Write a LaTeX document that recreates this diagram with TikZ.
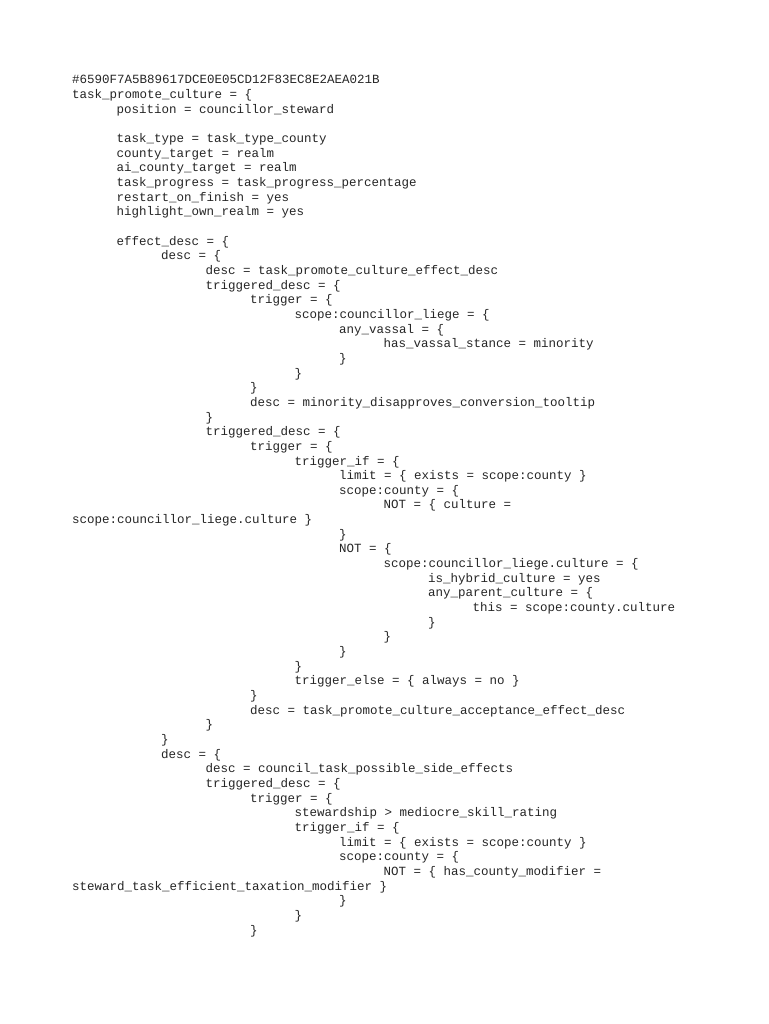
\documentclass[tikz,border=0pt]{standalone}
\usepackage{fontspec}
\setmonofont{Liberation Mono}
\tikzset{code/.style={anchor=base west, inner sep=0pt, font=\ttfamily\fontsize{12.5}{14.6}\selectfont, text=black!85}}
% one line of the listing: indent level, row, text
\newcommand\codeline[3]{\node[code] (l#2) at ({(72+44.5*#1)*1pt}, {-(84+14.655*(#2-1))*1pt}) {#3};}
\begin{document}
\begin{tikzpicture}
\useasboundingbox[fill=white] (0,0) rectangle (768pt,-1024pt);
\codeline{0}{1}{\#6590F7A5B89617DCE0E05CD12F83EC8E2AEA021B}
\codeline{0}{2}{task\_promote\_culture = \{}
\codeline{1}{3}{position = councillor\_steward}
\codeline{1}{5}{task\_type = task\_type\_county}
\codeline{1}{6}{county\_target = realm}
\codeline{1}{7}{ai\_county\_target = realm}
\codeline{1}{8}{task\_progress = task\_progress\_percentage}
\codeline{1}{9}{restart\_on\_finish = yes}
\codeline{1}{10}{highlight\_own\_realm = yes}
\codeline{1}{12}{effect\_desc = \{}
\codeline{2}{13}{desc = \{}
\codeline{3}{14}{desc = task\_promote\_culture\_effect\_desc}
\codeline{3}{15}{triggered\_desc = \{}
\codeline{4}{16}{trigger = \{}
\codeline{5}{17}{scope:councillor\_liege = \{}
\codeline{6}{18}{any\_vassal = \{}
\codeline{7}{19}{has\_vassal\_stance = minority}
\codeline{6}{20}{\}}
\codeline{5}{21}{\}}
\codeline{4}{22}{\}}
\codeline{4}{23}{desc = minority\_disapproves\_conversion\_tooltip}
\codeline{3}{24}{\}}
\codeline{3}{25}{triggered\_desc = \{}
\codeline{4}{26}{trigger = \{}
\codeline{5}{27}{trigger\_if = \{}
\codeline{6}{28}{limit = \{ exists = scope:county \}}
\codeline{6}{29}{scope:county = \{}
\codeline{7}{30}{NOT = \{ culture =}
\codeline{0}{31}{scope:councillor\_liege.culture \}}
\codeline{6}{32}{\}}
\codeline{6}{33}{NOT = \{}
\codeline{7}{34}{scope:councillor\_liege.culture = \{}
\codeline{8}{35}{is\_hybrid\_culture = yes}
\codeline{8}{36}{any\_parent\_culture = \{}
\codeline{9}{37}{this = scope:county.culture}
\codeline{8}{38}{\}}
\codeline{7}{39}{\}}
\codeline{6}{40}{\}}
\codeline{5}{41}{\}}
\codeline{5}{42}{trigger\_else = \{ always = no \}}
\codeline{4}{43}{\}}
\codeline{4}{44}{desc = task\_promote\_culture\_acceptance\_effect\_desc}
\codeline{3}{45}{\}}
\codeline{2}{46}{\}}
\codeline{2}{47}{desc = \{}
\codeline{3}{48}{desc = council\_task\_possible\_side\_effects}
\codeline{3}{49}{triggered\_desc = \{}
\codeline{4}{50}{trigger = \{}
\codeline{5}{51}{stewardship > mediocre\_skill\_rating}
\codeline{5}{52}{trigger\_if = \{}
\codeline{6}{53}{limit = \{ exists = scope:county \}}
\codeline{6}{54}{scope:county = \{}
\codeline{7}{55}{NOT = \{ has\_county\_modifier =}
\codeline{0}{56}{steward\_task\_efficient\_taxation\_modifier \}}
\codeline{6}{57}{\}}
\codeline{5}{58}{\}}
\codeline{4}{59}{\}}
\end{tikzpicture}
\end{document}
